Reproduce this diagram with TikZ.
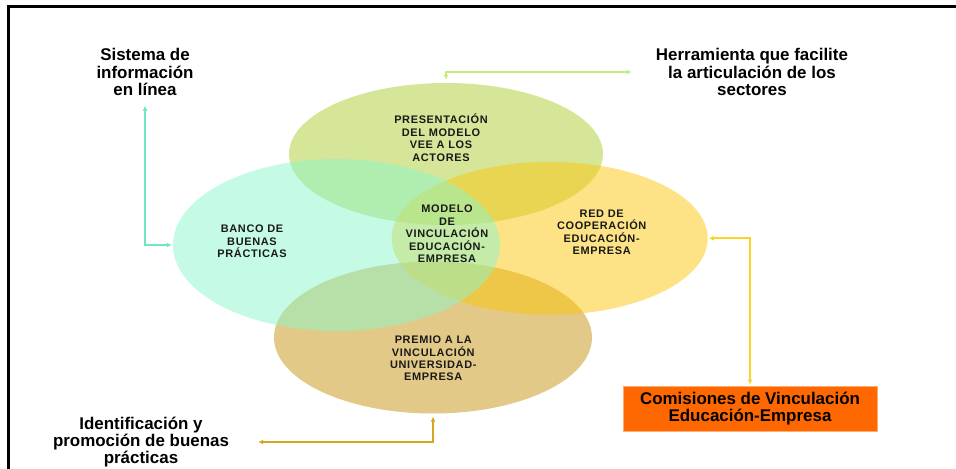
\documentclass[tikz,border=0pt]{standalone}
\usepackage{fontspec}
\setmainfont{Liberation Sans}
\newfontfamily\lblfont[LetterSpace=6]{Liberation Sans}
\usetikzlibrary{shapes.geometric,arrows.meta}

\definecolor{presfill}{RGB}{172,205,50}
\definecolor{bancofill}{RGB}{139,245,201}
\definecolor{redfill}{RGB}{251,199,13}
\definecolor{premiofill}{RGB}{199,147,15}
\definecolor{sistline}{RGB}{111,230,198}
\definecolor{herrline}{RGB}{196,238,122}
\definecolor{comisline}{RGB}{246,214,40}
\definecolor{identline}{RGB}{218,164,34}
\definecolor{comisfill}{RGB}{255,104,0}

\begin{document}
\begin{tikzpicture}[x=1bp,y=-1bp,
  blob/.style={ellipse, inner sep=0pt, fill opacity=0.5},
  lbl/.style={font=\lblfont\bfseries\fontsize{11}{12.5}\selectfont, align=center, inner sep=0pt, text=black!90},
  big/.style={font=\bfseries\fontsize{17}{17.5}\selectfont, align=center, inner sep=0pt},
  link/.style={line width=1.8bp, {Latex[length=5bp,width=5bp]}-{Latex[length=5bp,width=5bp]}}]
  \useasboundingbox (0,0) rectangle (956,469);

  % Marco
  \draw[line width=2.7bp] (8.7,469) -- (8.7,6.7) -- (956,6.7);

  % Elipses
  \node[blob, fill=presfill, minimum width=314bp, minimum height=142bp] (pres) at (446,154) {};
  \node[blob, fill=premiofill, minimum width=318bp, minimum height=152bp] (premio) at (433,337.5) {};
  \node[blob, fill=redfill, minimum width=316bp, minimum height=153bp] (red) at (549.7,238.3) {};
  \node[blob, fill=bancofill, minimum width=327bp, minimum height=172bp] (banco) at (336.5,245) {};

  % Textos de las elipses
  \node[lbl] (presT) at (441,137.7) {PRESENTACIÓN\\DEL MODELO\\VEE A LOS\\ACTORES};
  \node[lbl] (bancoT) at (252,241.5) {BANCO DE\\BUENAS\\PRÁCTICAS};
  \node[lbl] (modelo) at (447,234) {MODELO\\DE\\VINCULACIÓN\\EDUCACIÓN-\\EMPRESA};
  \node[lbl] (redT) at (601.7,232.3) {RED DE\\COOPERACIÓN\\EDUCACIÓN-\\EMPRESA};
  \node[lbl] (premioT) at (433.3,358.5) {PREMIO A LA\\VINCULACIÓN\\UNIVERSIDAD-\\EMPRESA};

  % Textos exteriores
  \node[big] (sist) at (145,72) {Sistema de\\información\\en línea};
  \node[big] (herr) at (752,72) {Herramienta que facilite\\la articulación de los\\sectores};
  \node[big] (ident) at (141,442) {Identificación y\\promoción de buenas\\prácticas};
  \node[big, fill=comisfill, draw=comisfill!55, line width=0.8bp, minimum width=254bp, minimum height=45bp] (comis) at (750,408.5) {Comisiones de Vinculación\\Educación-Empresa};

  % Flechas
  \draw[link, sistline, shorten <=10bp, shorten >=1bp] (sist.south) |- (banco.west);
  \draw[link, herrline, shorten <=3bp, shorten >=24bp] (pres.north) |- (herr.west);
  \draw[link, comisline, shorten <=1bp, shorten >=1bp] (red.east) -| (comis.north);
  \draw[link, identline, shorten <=3bp, shorten >=29bp] (premio.south) |- (ident.east);
\end{tikzpicture}
\end{document}
